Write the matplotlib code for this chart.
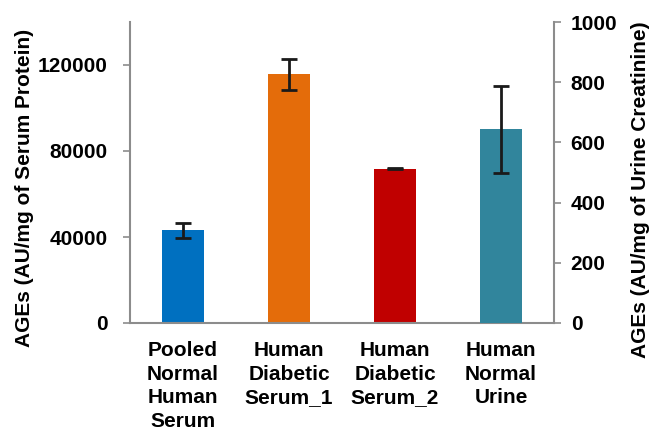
import matplotlib
matplotlib.use("Agg")
import matplotlib.pyplot as plt

categories = ["Pooled\nNormal\nHuman\nSerum", "Human\nDiabetic\nSerum_1", "Human\nDiabetic\nSerum_2", "Human\nNormal\nUrine"]
serum_values = [43100, 115700, 71700]
serum_errors = [3600, 7300, 300]
urine_value = [643]
urine_error = [143]
colors = ["#0070C0", "#E46C0A", "#C00000", "#31859C"]
left_ticks = [0, 40000, 80000, 120000]
right_ticks = [0, 200, 400, 600, 800, 1000]

plt.rcParams['font.family'] = ['Liberation Sans', 'DejaVu Sans']
plt.rcParams['font.weight'] = 'bold'

FS = 15

fig = plt.figure(figsize=(6.58, 4.34), dpi=100)
ax = fig.add_axes([130/658, 1-323/434, (554-130)/658, (323-22)/434])
ax2 = ax.twinx()

x = list(range(len(categories)))
ax.bar(x[:3], serum_values, width=0.4, color=colors[:3], zorder=2)
ax.errorbar(x[:3], serum_values, yerr=serum_errors, fmt='none', ecolor='#1a1a1a',
            elinewidth=2, capsize=5.5, capthick=2, zorder=3)
ax2.bar(x[3:], urine_value, width=0.4, color=colors[3], zorder=2)
ax2.errorbar(x[3:], urine_value, yerr=urine_error, fmt='none', ecolor='#1a1a1a',
             elinewidth=2, capsize=5.5, capthick=2, zorder=3)

ax.set_xlim(-0.5, 3.5)
ax.set_ylim(0, 140000)
ax2.set_ylim(0, 1000)
ax.set_yticks(left_ticks)
ax.set_yticklabels([str(v) for v in left_ticks])
ax2.set_yticks(right_ticks)
ax2.set_yticklabels([str(v) for v in right_ticks])
ax.set_xticks(x)
ax.set_xticklabels(categories, linespacing=1.3, fontsize=FS, fontweight='bold')

gray = '#8c8c8c'
for a in (ax, ax2):
    a.spines['top'].set_visible(False)
    for s in ('left', 'right', 'bottom'):
        a.spines[s].set_color(gray)
        a.spines[s].set_linewidth(1.5)
ax.spines['right'].set_visible(False)
ax2.spines['left'].set_visible(False)
ax2.spines['bottom'].set_visible(False)

ax.tick_params(axis='y', length=5, width=1.2, color=gray, pad=11, labelsize=FS)
ax2.tick_params(axis='y', length=5, width=1.2, color=gray, pad=7, labelsize=FS)
ax.tick_params(axis='x', length=0, pad=13)

ax.set_ylabel("AGEs (AU/mg of Serum Protein)", fontsize=FS, fontweight='bold')
ax2.set_ylabel("AGEs (AU/mg of Urine Creatinine)", fontsize=FS, fontweight='bold')
ax.yaxis.label.set_va('center')
ax2.yaxis.label.set_va('center')
ax.yaxis.set_label_coords((25-130)/424, (323-188)/301)
ax2.yaxis.set_label_coords((640-130)/424, (323-190)/301)

fig.savefig("out.png", dpi=100)
